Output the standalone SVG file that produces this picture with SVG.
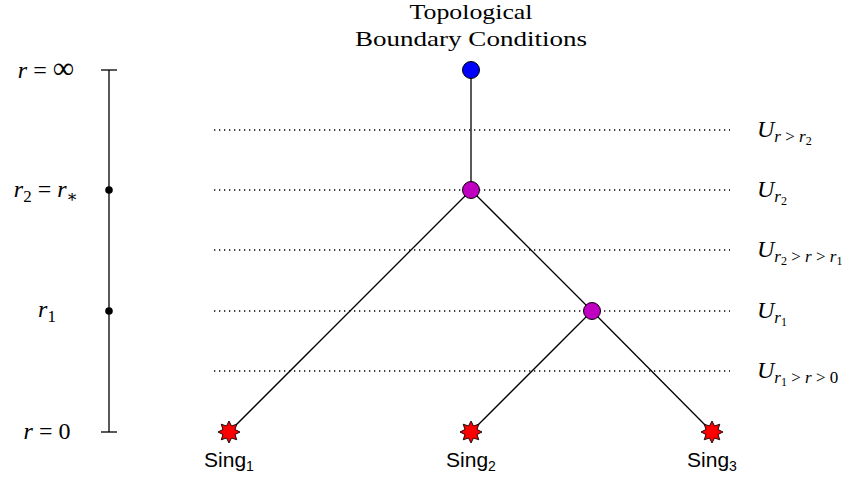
<svg xmlns="http://www.w3.org/2000/svg" width="850" height="482" viewBox="0 0 850 482">
<style>
.m{font-family:"Liberation Serif","DejaVu Serif",serif;font-size:24px;fill:#000}
.t{font-family:"Liberation Serif","DejaVu Serif",serif;font-size:22px;fill:#000}
.i{font-style:italic}
.s{font-family:"Liberation Sans",Arial,sans-serif;font-size:21px;fill:#000}
.dot{stroke:#000;stroke-width:1.3;stroke-dasharray:1.3 3.7;fill:none}
.edge{stroke:#000;stroke-width:1.3;fill:none}
.node{stroke:#000;stroke-width:1}
</style>
<defs>
<polygon id="star" points="0,-11 2.49,-6.01 7.78,-7.78 6.01,-2.49 11,0 6.01,2.49 7.78,7.78 2.49,6.01 0,11 -2.49,6.01 -7.78,7.78 -6.01,2.49 -11,0 -6.01,-2.49 -7.78,-7.78 -2.49,-6.01" fill="#ff0000" stroke="#000" stroke-width="0.9"/>
</defs>
<rect width="850" height="482" fill="#fff"/>

<g id="axis">
<line x1="109" y1="70" x2="109" y2="432" class="edge" stroke-width="1.6"/>
<line x1="101" y1="70" x2="117" y2="70" class="edge" stroke-width="1.6"/>
<line x1="101" y1="432" x2="117" y2="432" class="edge" stroke-width="1.6"/>
<circle cx="109" cy="190" r="3.8" fill="#000"/>
<circle cx="109" cy="311" r="3.8" fill="#000"/>
<text class="m" x="46" y="78" text-anchor="middle"><tspan class="i">r</tspan> = <tspan font-size="30">∞</tspan></text>
<text class="m" x="46" y="197" text-anchor="middle"><tspan class="i">r</tspan><tspan font-size="17" dy="5">2</tspan><tspan dy="-5"> = </tspan><tspan class="i">r</tspan><tspan class="i" font-size="17" dy="5">∗</tspan></text>
<text class="m" x="47" y="317" text-anchor="middle"><tspan class="i">r</tspan><tspan font-size="17" dy="5">1</tspan></text>
<text class="m" x="47" y="439" text-anchor="middle"><tspan class="i">r</tspan> = 0</text>
</g>

<g id="levels">
<line x1="214" y1="130" x2="730" y2="130" class="dot"/>
<line x1="214" y1="190" x2="730" y2="190" class="dot"/>
<line x1="214" y1="250" x2="730" y2="250" class="dot"/>
<line x1="214" y1="311" x2="730" y2="311" class="dot"/>
<line x1="214" y1="371" x2="730" y2="371" class="dot"/>
<text class="m" x="757" y="137"><tspan class="i">U</tspan><tspan font-size="17" dy="5"><tspan class="i">r</tspan> &gt; <tspan class="i">r</tspan><tspan font-size="12" dy="3">2</tspan></tspan></text>
<text class="m" x="757" y="197"><tspan class="i">U</tspan><tspan font-size="17" dy="5" class="i">r</tspan><tspan font-size="12" dy="3">2</tspan></text>
<text class="m" x="757" y="257"><tspan class="i">U</tspan><tspan font-size="17" dy="5"><tspan class="i">r</tspan><tspan font-size="12" dy="3">2</tspan><tspan dy="-3"> &gt; </tspan><tspan class="i">r</tspan> &gt; <tspan class="i">r</tspan><tspan font-size="12" dy="3">1</tspan></tspan></text>
<text class="m" x="757" y="318"><tspan class="i">U</tspan><tspan font-size="17" dy="5" class="i">r</tspan><tspan font-size="12" dy="3">1</tspan></text>
<text class="m" x="757" y="378"><tspan class="i">U</tspan><tspan font-size="17" dy="5"><tspan class="i">r</tspan><tspan font-size="12" dy="3">1</tspan><tspan dy="-3"> &gt; </tspan><tspan class="i">r</tspan> &gt; 0</tspan></text>
</g>

<g id="connectors">
<line x1="471" y1="70" x2="471" y2="190" class="edge"/>
<line x1="471" y1="190" x2="229" y2="432" class="edge"/>
<line x1="471" y1="190" x2="592" y2="311" class="edge"/>
<line x1="592" y1="311" x2="471" y2="432" class="edge"/>
<line x1="592" y1="311" x2="712" y2="432" class="edge"/>
</g>

<g id="title">
<text class="t" x="471" y="19" text-anchor="middle" textLength="123" lengthAdjust="spacingAndGlyphs">Topological</text>
<text class="t" x="471" y="46" text-anchor="middle" textLength="232" lengthAdjust="spacingAndGlyphs">Boundary Conditions</text>
</g>

<g id="node-top"><circle cx="471" cy="70" r="8.5" fill="#0000ff" class="node"/></g>
<g id="node-r2"><circle cx="471" cy="190" r="8.5" fill="#c000c0" class="node"/></g>
<g id="node-r1"><circle cx="592" cy="311" r="8.5" fill="#c000c0" class="node"/></g>

<g id="sing1"><use href="#star" x="229" y="432"/><text class="s" x="229" y="467" text-anchor="middle">Sing<tspan font-size="14" dy="4">1</tspan></text></g>
<g id="sing2"><use href="#star" x="471" y="432"/><text class="s" x="471" y="467" text-anchor="middle">Sing<tspan font-size="14" dy="4">2</tspan></text></g>
<g id="sing3"><use href="#star" x="712" y="432"/><text class="s" x="712" y="467" text-anchor="middle">Sing<tspan font-size="14" dy="4">3</tspan></text></g>
</svg>
